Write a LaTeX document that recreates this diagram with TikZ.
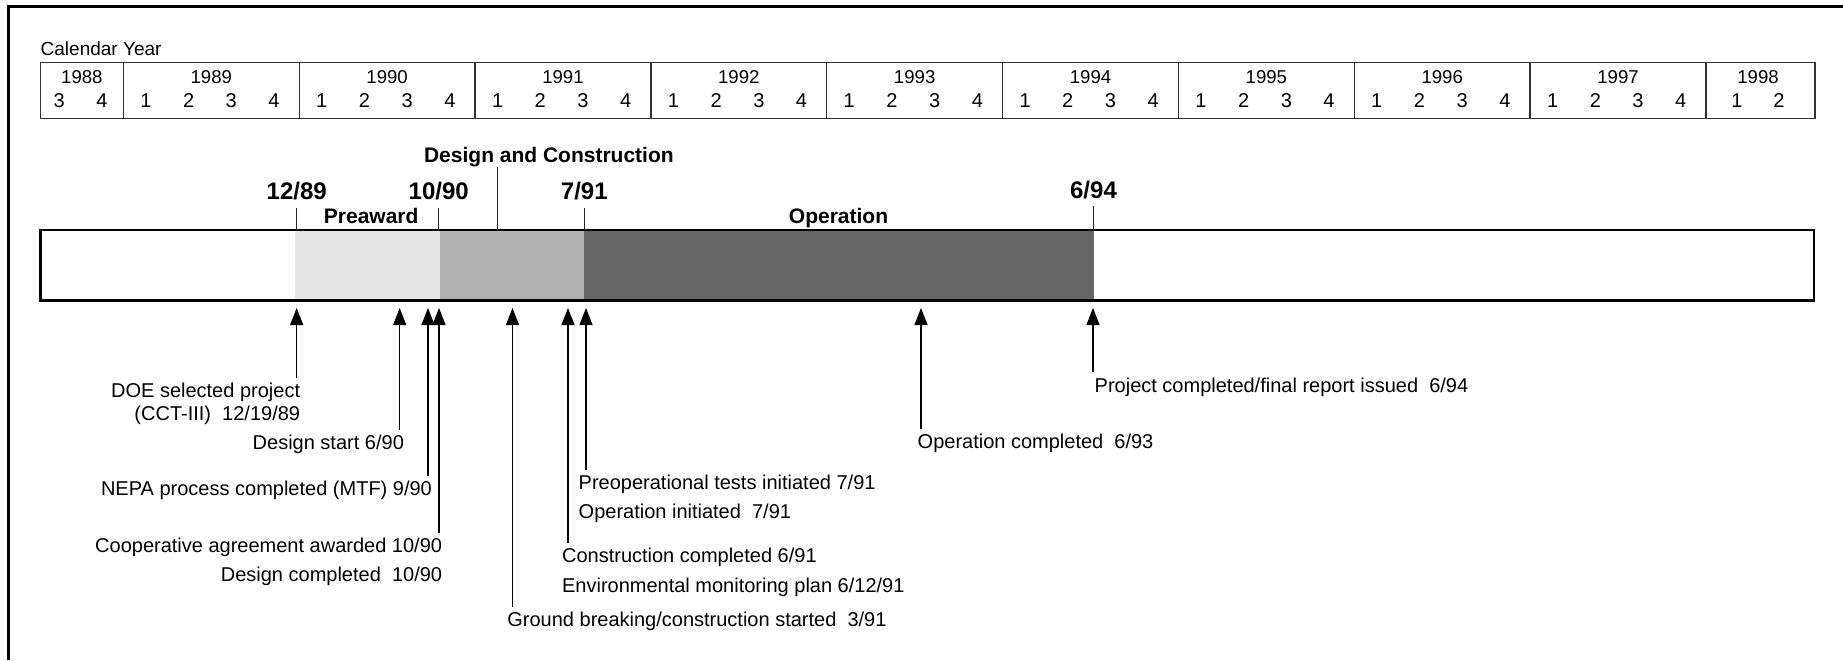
\documentclass[tikz,border=0pt]{standalone}
\usepackage{fontspec}
\setmainfont{Liberation Sans}
\usetikzlibrary{arrows.meta}

\begin{document}
\begin{tikzpicture}[x=0.5pt,y=-0.5pt,
	txt/.style={inner xsep=0pt,inner ysep=2.45pt,font=\fontsize{10}{12}\selectfont},
	lefttxt/.style={txt,anchor=base east},
	righttxt/.style={txt,anchor=base west},
	datelab/.style={anchor=base,inner xsep=0pt,inner ysep=3.7pt,font=\fontsize{12}{14}\selectfont\bfseries},
	phaselab/.style={anchor=base,inner sep=0pt,font=\fontsize{10.5}{12}\selectfont\bfseries},
	yearlab/.style={anchor=base,inner sep=0pt,font=\fontsize{9.3}{11}\selectfont},
	qlab/.style={anchor=base,inner sep=0pt,font=\fontsize{10}{12}\selectfont},
	gridline/.style={black!80,line width=0.65pt},
	tickline/.style={black!85,line width=0.6pt},
	milestone/.style={black,line width=0.6pt,-{Triangle[length=8.5pt,width=6.5pt]}}]
	\useasboundingbox (0,0) rectangle (1843,660);
	\draw[line width=1.25pt] (8.5,660) -- (8.5,6.7) -- (1843,6.7);

	% calendar strip
	\node[anchor=base west,inner sep=0pt,font=\fontsize{9.5}{11}\selectfont] (cal) at (40.3,55) {Calendar Year};
	\draw[gridline] (40.3,62.3) rectangle (1815,118.3);
	\foreach \i in {0,...,9}
		\draw[gridline] ({123.4+175.84*\i},62.3) -- ({123.4+175.84*\i},118.3);
	\node[yearlab] (y1988) at (81.9,83) {1988};
	\node[qlab] (q1988c) at (59.3,107.2) {3};
	\node[qlab] (q1988d) at (102,107.2) {4};
	\foreach \yr [count=\i from 0] in {1989,...,1997} {
		\node[yearlab] (y\yr) at ({123.4+175.84*\i+87.9},83) {\yr};
		\foreach \q in {1,...,4}
			\node[qlab] (q\yr\q) at ({123.4+175.84*\i+22.5+42.7*(\q-1)},107.2) {\q};
	}
	\node[yearlab] (y1998) at (1758,83) {1998};
	\node[qlab] (q1998a) at (1737,107.2) {1};
	\node[qlab] (q1998b) at (1779,107.2) {2};

	% phases bar
	\fill[black!10] (295,230) rectangle (440,300.7);
	\fill[black!30] (440,230) rectangle (584.3,300.7);
	\fill[black!60] (584.3,230) rectangle (1093.5,300.7);
	\draw[line width=1.3pt] (40.3,230) rectangle (1814,300.7);

	\coordinate (t1289) at (296.7,230);
	\coordinate (t1090) at (438.7,230);
	\coordinate (tdc) at (497.7,230);
	\coordinate (t791) at (584.3,230);
	\coordinate (t694) at (1093.5,230);

	\node[datelab] (d1289) at (296.7,199.5) {12/89};
	\node[datelab] (d1090) at (438.7,199.5) {10/90};
	\node[datelab] (d791) at (584.3,199.5) {7/91};
	\node[datelab] (d694) at (1093.5,198) {6/94};
	\draw[tickline] (d1289.south) -- (t1289);
	\draw[tickline] (d1090.south) -- (t1090);
	\draw[tickline] (d791.south) -- (t791);
	\draw[tickline] (d694.south) -- (t694);

	\node[phaselab] (dc) at (548.9,162.5) {Design and Construction};
	\draw[tickline] (dc.south -| tdc) -- (tdc);
	\node[phaselab] (pre) at (371.2,223.5) {Preaward};
	\node[phaselab] (op) at (838.5,223.5) {Operation};

	% milestones
	\coordinate (m1) at (296.7,308);
	\coordinate (m2) at (399.7,308);
	\coordinate (m3) at (428,308);
	\coordinate (m4) at (439,308);
	\coordinate (m5) at (512.5,308);
	\coordinate (m6) at (568,308);
	\coordinate (m7) at (586,308);
	\coordinate (m8) at (921,308);
	\coordinate (m9) at (1093,308);

	\node[lefttxt] (doe) at (300.5,397.7) {DOE selected project};
	\node[lefttxt] (cct) at (300.5,420.3) {(CCT-III)\ \ 12/19/89};
	\node[lefttxt] (dst) at (404.3,449.5) {Design start 6/90};
	\node[lefttxt] (nepa) at (432.3,495.3) {NEPA process completed (MTF) 9/90};
	\node[lefttxt] (coop) at (442.5,552.5) {Cooperative agreement awarded 10/90};
	\node[lefttxt] (dcomp) at (442.5,581.5) {Design completed\ \ 10/90};
	\node[righttxt] (gb) at (507,626.5) {Ground breaking/construction started\ \ 3/91};
	\node[righttxt] (cc) at (561.7,562.3) {Construction completed 6/91};
	\node[righttxt] (emp) at (561.7,592) {Environmental monitoring plan 6/12/91};
	\node[righttxt] (pt) at (578.3,489.7) {Preoperational tests initiated 7/91};
	\node[righttxt] (oi) at (578.3,518) {Operation initiated\ \ 7/91};
	\node[righttxt] (oc) at (917.3,448.7) {Operation completed\ \ 6/93};
	\node[righttxt] (pc) at (1094.3,392) {Project completed/final report issued\ \ 6/94};

	\draw[milestone] (m1 |- doe.north) -- (m1);
	\draw[milestone] (m2 |- dst.north) -- (m2);
	\draw[milestone] (m3 |- nepa.north) -- (m3);
	\draw[milestone] (m4 |- coop.north) -- (m4);
	\draw[milestone] (m5 |- gb.north) -- (m5);
	\draw[milestone] (m6 |- cc.north) -- (m6);
	\draw[milestone] (m7 |- pt.north) -- (m7);
	\draw[milestone] (m8 |- oc.north) -- (m8);
	\draw[milestone] (m9 |- pc.north) -- (m9);
\end{tikzpicture}
\end{document}
